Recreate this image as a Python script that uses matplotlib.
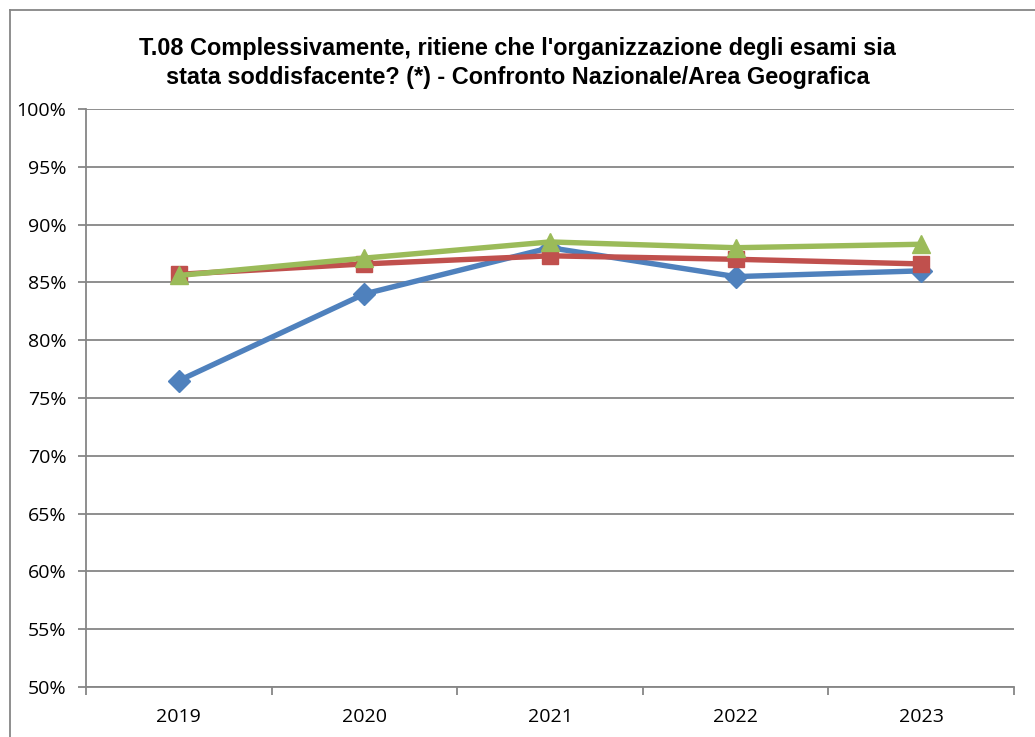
import matplotlib
matplotlib.use("Agg")
import matplotlib.pyplot as plt
from matplotlib.lines import Line2D
from matplotlib.ticker import FuncFormatter, MultipleLocator

years = ["2019", "2020", "2021", "2022", "2023"]
ateneo = [76.5, 84.0, 88.0, 85.5, 86.0]
area = [85.7, 86.6, 87.3, 87.0, 86.6]
nazionale = [85.6, 87.1, 88.5, 88.0, 88.3]
title = ("T.08 Complessivamente, ritiene che l'organizzazione degli esami sia\n"
         "stata soddisfacente? (*) - Confronto Nazionale/Area Geografica")

plt.rcParams['font.family'] = ['Open Sans', 'DejaVu Sans']

W, H = 1035, 737
fig = plt.figure(figsize=(W / 100, H / 100), dpi=100)
ax = fig.add_axes([86 / W, 1 - 687 / H, (1014 - 86) / W, (687 - 109) / H])

x = list(range(len(years)))
ax.plot(x, ateneo, color="#4F81BD", lw=3.9, marker="D", ms=11.5, zorder=3)
ax.plot(x, area, color="#C0504D", lw=3.9, marker="s", ms=12, zorder=4)
ax.plot(x, nazionale, color="#9BBB59", lw=3.9, marker="^", ms=13.5, zorder=5)

ax.set_xlim(-0.5, len(years) - 0.5)
ax.set_ylim(50, 100)
ax.yaxis.set_major_locator(MultipleLocator(5))
ax.yaxis.set_major_formatter(FuncFormatter(lambda v, p: f"{v:.0f}%"))
ax.set_xticks(x)
ax.set_xticklabels(years)
ax.set_xticks([i - 0.5 for i in range(len(years) + 1)], minor=True)
ax.tick_params(axis="x", which="major", length=0, pad=15, labelsize=14)
ax.tick_params(axis="x", which="minor", length=6, color="#868686", width=1.3)
ax.tick_params(axis="y", length=6, color="#868686", width=1.3, labelsize=14, pad=8)
ax.grid(axis="y", color="#868686", lw=1.3)
ax.set_axisbelow(True)
for s in ["top", "right"]:
    ax.spines[s].set_visible(False)
for s in ["left", "bottom"]:
    ax.spines[s].set_color("#868686")
    ax.spines[s].set_linewidth(1.3)

fig.text(0.5, 1 - 63 / H, title, ha="center", va="center", fontsize=16.9,
         fontweight="bold", family=["Liberation Sans", "DejaVu Sans"], linespacing=1.35)

fig.add_artist(Line2D([10 / W, 1], [1 - 10 / H, 1 - 10 / H], color="#868686", lw=1.3))
fig.add_artist(Line2D([10 / W, 10 / W], [0, 1 - 10 / H], color="#868686", lw=1.3))

fig.savefig("out.png", dpi=100)
